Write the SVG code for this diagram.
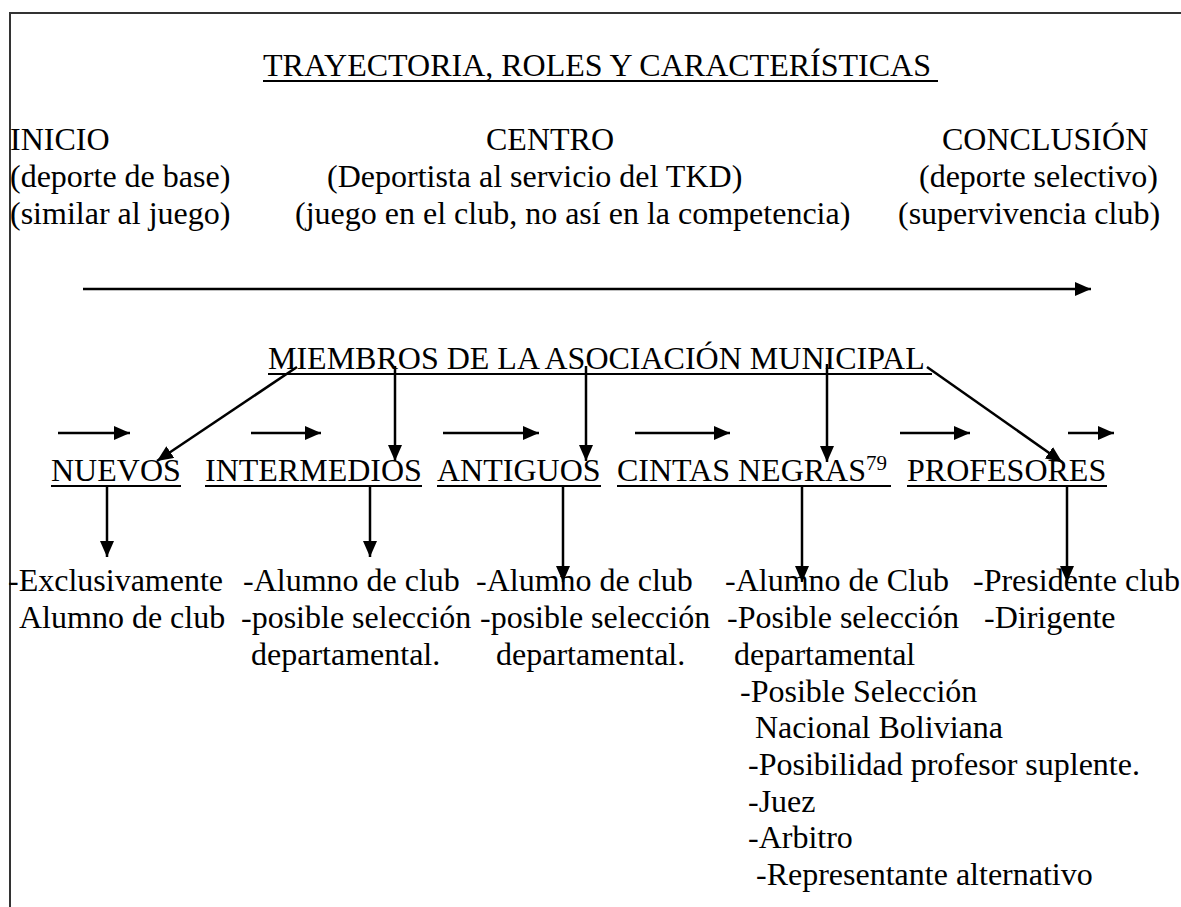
<svg xmlns="http://www.w3.org/2000/svg" width="1181" height="907" viewBox="0 0 1181 907">
<style>
.ul{stroke:#000;stroke-width:2}
.ar{stroke:#000;stroke-width:2.5;fill:none;marker-end:url(#ah)}
.bd{stroke:#333;stroke-width:2}
</style>
<defs>
<marker id="ah" markerUnits="userSpaceOnUse" markerWidth="16" markerHeight="14" refX="16" refY="7" orient="auto">
<path d="M0,0 L16,7 L0,14 z" fill="#000"/>
</marker>
</defs>
<rect width="1181" height="907" fill="#fff"/>
<g id="border">
<line class="bd" x1="9" y1="13" x2="1181" y2="13"/>
<line class="bd" x1="10" y1="13" x2="10" y2="907"/>
</g>
<g id="title">
<text x="263" y="76" font-family="Liberation Serif" font-size="32">TRAYECTORIA, ROLES Y CARACTERÍSTICAS</text>
<line class="ul" x1="263" y1="81" x2="938" y2="81"/>
</g>
<g id="inicio" font-family="Liberation Serif" font-size="32">
<text x="10" y="150" font-family="Liberation Serif">INICIO</text>
<text x="10" y="187" font-family="Liberation Serif">(deporte de base)</text>
<text x="10" y="224" font-family="Liberation Serif">(similar al juego)</text>
</g>
<g id="centro" font-family="Liberation Serif" font-size="32">
<text x="486" y="150" font-family="Liberation Serif">CENTRO</text>
<text x="327" y="187" font-family="Liberation Serif">(Deportista al servicio del TKD)</text>
<text x="295" y="224" font-family="Liberation Serif">(juego en el club, no así en la competencia)</text>
</g>
<g id="conclusion" font-family="Liberation Serif" font-size="32">
<text x="942" y="150" font-family="Liberation Serif">CONCLUSIÓN</text>
<text x="919" y="187" font-family="Liberation Serif">(deporte selectivo)</text>
<text x="898" y="224" font-family="Liberation Serif">(supervivencia club)</text>
</g>
<g id="miembros" font-family="Liberation Serif" font-size="32">
<text x="268" y="369" font-family="Liberation Serif">MIEMBROS DE LA ASOCIACIÓN MUNICIPAL</text>
<line class="ul" x1="268" y1="374" x2="932" y2="374"/>
</g>
<g id="nuevos" font-family="Liberation Serif" font-size="32">
<text x="51" y="481" font-family="Liberation Serif">NUEVOS</text>
<line class="ul" x1="51" y1="486" x2="181" y2="486"/>
</g>
<g id="intermedios" font-family="Liberation Serif" font-size="32">
<text x="205" y="481" font-family="Liberation Serif">INTERMEDIOS</text>
<line class="ul" x1="205" y1="486" x2="422" y2="486"/>
</g>
<g id="antiguos" font-family="Liberation Serif" font-size="32">
<text x="437" y="481" font-family="Liberation Serif">ANTIGUOS</text>
<line class="ul" x1="437" y1="486" x2="601" y2="486"/>
</g>
<g id="cintas" font-family="Liberation Serif" font-size="32">
<text x="617" y="481" font-family="Liberation Serif">CINTAS NEGRAS<tspan font-size="21" dy="-11">79</tspan></text>
<line class="ul" x1="617" y1="486" x2="891" y2="486"/>
</g>
<g id="profesores" font-family="Liberation Serif" font-size="32">
<text x="907" y="481" font-family="Liberation Serif">PROFESORES</text>
<line class="ul" x1="907" y1="486" x2="1107" y2="486"/>
</g>
<g id="list-nuevos" font-family="Liberation Serif" font-size="32">
<text x="8" y="591" font-family="Liberation Serif">-Exclusivamente</text>
<text x="19" y="628" font-family="Liberation Serif">Alumno de club</text>
</g>
<g id="list-intermedios" font-family="Liberation Serif" font-size="32">
<text x="243" y="591" font-family="Liberation Serif">-Alumno de club</text>
<text x="241" y="628" font-family="Liberation Serif">-posible selección</text>
<text x="251" y="665" font-family="Liberation Serif">departamental.</text>
</g>
<g id="list-antiguos" font-family="Liberation Serif" font-size="32">
<text x="476" y="591" font-family="Liberation Serif">-Alumno de club</text>
<text x="480" y="628" font-family="Liberation Serif">-posible selección</text>
<text x="496" y="665" font-family="Liberation Serif">departamental.</text>
</g>
<g id="list-cintas" font-family="Liberation Serif" font-size="32">
<text x="725" y="591" font-family="Liberation Serif">-Alumno de Club</text>
<text x="727" y="628" font-family="Liberation Serif">-Posible selección</text>
<text x="734" y="665" font-family="Liberation Serif">departamental</text>
<text x="740" y="702" font-family="Liberation Serif">-Posible Selección</text>
<text x="755" y="738" font-family="Liberation Serif">Nacional Boliviana</text>
<text x="748" y="775" font-family="Liberation Serif">-Posibilidad profesor suplente.</text>
<text x="748" y="812" font-family="Liberation Serif">-Juez</text>
<text x="748" y="848" font-family="Liberation Serif">-Arbitro</text>
<text x="756" y="885" font-family="Liberation Serif">-Representante alternativo</text>
</g>
<g id="list-profesores" font-family="Liberation Serif" font-size="32">
<text x="973" y="591" font-family="Liberation Serif">-Presidente club</text>
<text x="984" y="628" font-family="Liberation Serif">-Dirigente</text>
</g>
<g id="connectors">
<line class="ar" x1="83" y1="289" x2="1091" y2="289"/>
<line class="ar" x1="58" y1="433" x2="130" y2="433"/>
<line class="ar" x1="251" y1="433" x2="321" y2="433"/>
<line class="ar" x1="443" y1="433" x2="539" y2="433"/>
<line class="ar" x1="635" y1="433" x2="730" y2="433"/>
<line class="ar" x1="900" y1="433" x2="970" y2="433"/>
<line class="ar" x1="1068" y1="433" x2="1114" y2="433"/>
<line class="ar" x1="297" y1="367" x2="157" y2="461"/>
<line class="ar" x1="395" y1="366" x2="395" y2="461"/>
<line class="ar" x1="586" y1="366" x2="586" y2="461"/>
<line class="ar" x1="827" y1="364" x2="827" y2="462"/>
<line class="ar" x1="927" y1="367" x2="1062" y2="462"/>
<line class="ar" x1="107" y1="487" x2="107" y2="557"/>
<line class="ar" x1="370" y1="487" x2="370" y2="557"/>
<line class="ar" x1="563" y1="487" x2="563" y2="582"/>
<line class="ar" x1="802" y1="487" x2="802" y2="582"/>
<line class="ar" x1="1067" y1="487" x2="1067" y2="582"/>
</g>
</svg>
